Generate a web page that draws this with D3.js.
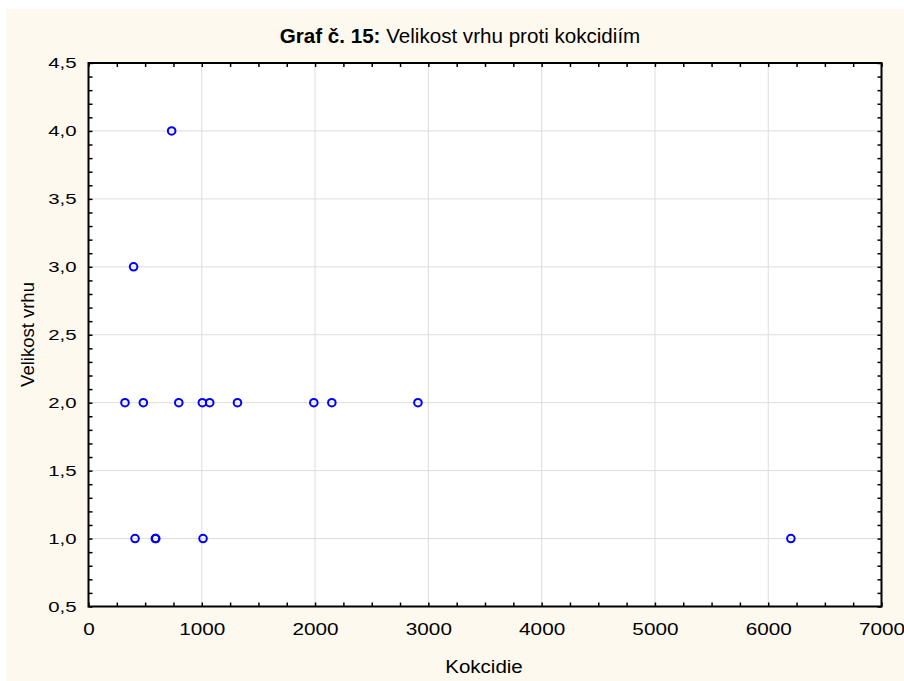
<!DOCTYPE html>
<html><head><meta charset="utf-8">
<script src="https://cdn.jsdelivr.net/npm/d3@7"></script>
<style>
html,body{margin:0;padding:0;background:#fff;}
svg{display:block;}
text{font-family:Arial,"Liberation Sans",sans-serif;fill:#000;}
</style></head>
<body>
<svg id="c" width="904" height="681"></svg>
<script>
// Data: Kokcidie (x) vs Velikost vrhu (y)
const kokcidie = [322, 484, 797, 1005, 1070, 1315, 1989, 2148, 2908, 411, 590, 594, 1011, 6200, 398, 734];
const velikostVrhu = [2, 2, 2, 2, 2, 2, 2, 2, 2, 1, 1, 1, 1, 1, 3, 4];
const xTicks = [0, 1000, 2000, 3000, 4000, 5000, 6000, 7000];
const yTicks = [0.5, 1.0, 1.5, 2.0, 2.5, 3.0, 3.5, 4.0, 4.5];
const titleBold = "Graf č. 15:";
const titleRest = " Velikost vrhu proti kokcidiím";
const xLabel = "Kokcidie";
const yLabel = "Velikost vrhu";

const svg = d3.select("#c");
const L = 88.5, R = 881.5, T = 63, B = 606.5;
const FONT = "Arial, 'Liberation Sans', sans-serif";

svg.append("rect").attr("x", 6).attr("y", 9).attr("width", 898).attr("height", 672).attr("fill", "#fdf9ef");
svg.append("rect").attr("x", L).attr("y", T).attr("width", R - L).attr("height", B - T).attr("fill", "#fff");

const x = d3.scaleLinear().domain([0, 7000]).range([L, R]);
const y = d3.scaleLinear().domain([0.5, 4.5]).range([B, T]);

// grid
svg.append("g").selectAll("line").data(xTicks.slice(1, -1)).join("line")
  .attr("x1", d => x(d)).attr("x2", d => x(d)).attr("y1", T).attr("y2", B)
  .attr("stroke", "#dcdcdc").attr("stroke-width", 1);
svg.append("g").selectAll("line").data(yTicks.slice(1, -1)).join("line")
  .attr("y1", d => y(d)).attr("y2", d => y(d)).attr("x1", L).attr("x2", R)
  .attr("stroke", "#dcdcdc").attr("stroke-width", 1);

const fmt = d => d3.format(".1f")(d).replace(".", ",");
const xMinor = d3.range(0, 7001, 250);
const yMinor = d3.range(5, 46, 1).map(v => v / 10);

// axes with inward ticks
const axB = d3.axisBottom(x).tickValues(xMinor).tickSize(-4).tickFormat("");
const axT = d3.axisTop(x).tickValues(xMinor).tickSize(-4).tickFormat("");
const axL = d3.axisLeft(y).tickValues(yMinor).tickSize(-4).tickFormat("");
const axR = d3.axisRight(y).tickValues(yMinor).tickSize(-4).tickFormat("");
[[axB, `translate(0,${B})`], [axT, `translate(0,${T})`], [axL, `translate(${L},0)`], [axR, `translate(${R},0)`]].forEach(([a, t]) => {
  const g = svg.append("g").attr("transform", t).call(a);
  g.select(".domain").remove();
  g.selectAll("line").attr("stroke", "#000").attr("stroke-width", 1.5);
});

// tick labels (horizontally widened like the original)
const sxX = 1.22, sxY = 1.36;
svg.append("g").attr("transform", `translate(0,${B})`)
  .call(d3.axisBottom(x).tickValues(xTicks).tickSize(0).tickPadding(16.5).tickFormat(d3.format("d")))
  .call(g => g.select(".domain").remove())
  .selectAll("text").attr("font-size", 17).attr("font-family", FONT).attr("fill", "#000")
  .attr("transform", `scale(${sxX},1)`);
svg.append("g").attr("transform", `translate(${L},0)`)
  .call(d3.axisLeft(y).tickValues(yTicks).tickSize(0).tickPadding(12).tickFormat(fmt))
  .call(g => g.select(".domain").remove())
  .selectAll("text").attr("font-size", 15).attr("font-family", FONT).attr("fill", "#000")
  .attr("x", -12 / sxY).attr("transform", `scale(${sxY},1)`);

// frame
svg.append("rect").attr("x", L).attr("y", T).attr("width", R - L).attr("height", B - T)
  .attr("fill", "none").attr("stroke", "#000").attr("stroke-width", 2);

// points
svg.append("g").selectAll("circle").data(kokcidie.map((k, i) => [k, velikostVrhu[i]])).join("circle")
  .attr("cx", d => x(d[0])).attr("cy", d => y(d[1])).attr("r", 3.8)
  .attr("fill", "none").attr("stroke", "#0000ff").attr("stroke-width", 2);

// title
const t = svg.append("text").attr("x", 460).attr("y", 43).attr("text-anchor", "middle").attr("font-size", 20.6);
t.append("tspan").attr("font-weight", "bold").text(titleBold);
t.append("tspan").text(titleRest);

svg.append("text").attr("transform", `translate(484,673) scale(1.08,1)`).attr("text-anchor", "middle").attr("font-size", 19).text(xLabel);
svg.append("text").attr("transform", `translate(33.5,334.5) rotate(-90)`).attr("text-anchor", "middle").attr("font-size", 18.5).text(yLabel);
</script>
</body></html>
